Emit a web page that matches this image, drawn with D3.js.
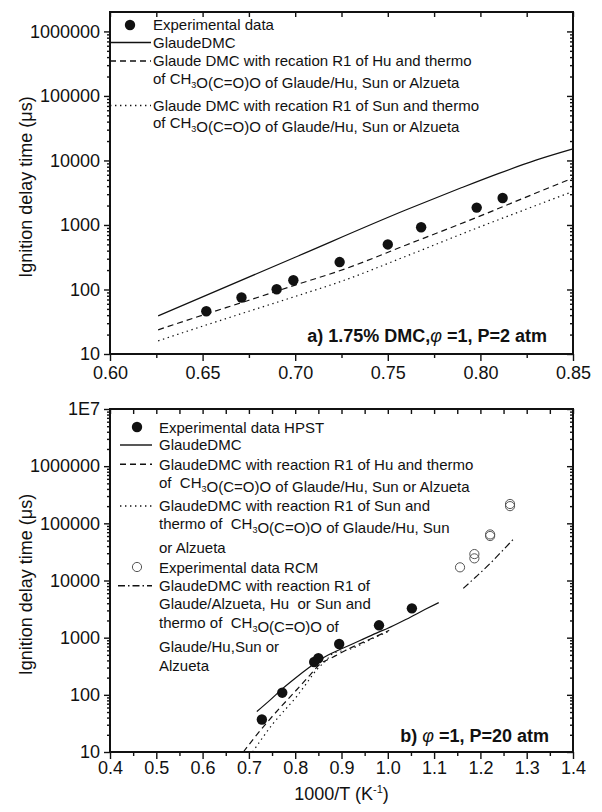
<!DOCTYPE html>
<html>
<head>
<meta charset="utf-8">
<script src="https://cdn.jsdelivr.net/npm/d3@7/dist/d3.min.js"></script>
<style>
  body { margin: 0; background: #fff; }
  svg { display: block; }
  text { font-family: "Liberation Sans", Arial, Helvetica, sans-serif; fill: #111; }
</style>
</head>
<body>
<svg id="chart" width="602" height="812"></svg>
<script>
// ---------- Panel a) 1.75% DMC, phi = 1, P = 2 atm ----------
const expA_x = [0.652, 0.671, 0.690, 0.699, 0.724, 0.750, 0.768, 0.798, 0.812];
const expA_y = [46, 75, 101, 139, 266, 499, 921, 1858, 2620];

const glaudeA_x = [0.626, 0.700, 0.760, 0.790, 0.810, 0.830, 0.850];
const glaudeA_y = [39, 316, 1718, 3800, 6310, 10100, 15100];

const huA_x = [0.626, 0.650, 0.675, 0.700, 0.727, 0.760, 0.796, 0.825, 0.850];
const huA_y = [23.7, 40, 68, 117, 209, 490, 1242, 2730, 5340];

const sunA_x = [0.626, 0.650, 0.675, 0.700, 0.724, 0.760, 0.796, 0.825, 0.850];
const sunA_y = [16, 27, 46, 78, 131, 329, 849, 1770, 3310];

const xTicksA = ["0.60", "0.65", "0.70", "0.75", "0.80", "0.85"];
const yTicksA = ["10", "100", "1000", "10000", "100000", "1000000"];

// ---------- Panel b) phi = 1, P = 20 atm ----------
const hpstB_x = [0.728, 0.772, 0.841, 0.850, 0.895, 0.981, 1.052];
const hpstB_y = [37, 109, 375, 436, 775, 1644, 3260];

const rcmB_x = [1.156, 1.187, 1.187, 1.221, 1.221, 1.264, 1.264];
const rcmB_y = [17000, 24400, 29000, 60000, 64000, 200000, 218000];

const glaudeB_x = [0.717, 0.745, 0.772, 0.800, 0.830, 0.855, 0.880, 0.900, 0.940, 0.980, 1.000, 1.040, 1.080, 1.110];
const glaudeB_y = [51, 80, 127, 195, 300, 420, 540, 640, 890, 1250, 1460, 2100, 3100, 4100];

const huB_x = [0.688, 0.710, 0.738, 0.766, 0.796, 0.832, 0.854, 0.880, 0.918, 0.969, 1.003];
const huB_y = [10, 17, 32, 58, 106, 222, 346, 450, 652, 1000, 1340];

const sunB_x = [0.708, 0.730, 0.753, 0.780, 0.803, 0.825, 0.846, 0.865, 0.882, 0.918, 0.969, 1.003];
const sunB_y = [10, 18, 32, 57, 93, 161, 272, 387, 532, 626, 980, 1300];

const allR1B_x = [1.163, 1.190, 1.220, 1.245, 1.271];
const allR1B_y = [7290, 11500, 19500, 31500, 52500];

const xTicksB = ["0.4", "0.5", "0.6", "0.7", "0.8", "0.9", "1.0", "1.1", "1.2", "1.3", "1.4"];
const yTicksB = ["10", "100", "1000", "10000", "100000", "1000000", "1E7"];

// ---------- drawing ----------
const svg = d3.select("#chart");

const DASH = "6,4", DOT = "1.4,3.6", DASHDOT = "7,3,1.5,3";

function logMinors(domain) {
  const out = [];
  for (let d = Math.pow(10, Math.floor(Math.log10(domain[0]))); d < domain[1]; d *= 10) {
    for (let m = 2; m <= 9; m++) {
      const v = m * d;
      if (v > domain[0] && v < domain[1]) out.push(v);
    }
  }
  return out;
}

function drawPanel(p) {
  const g = svg.append("g");
  const x = d3.scaleLinear().domain(p.xDomain).range([p.left, p.right]);
  const y = d3.scaleLog().domain(p.yDomain).range([p.bottom, p.top]);
  const xMajor = p.xLabels.map(Number);
  const yMajor = p.yLabels.map(Number);
  const xMinor = d3.range(p.xDomain[0] + p.xMinorStep, p.xDomain[1], p.xMinorStep * 2)
                   .map(v => +v.toFixed(4));
  const yMinor = logMinors(p.yDomain);

  const styleAxis = sel => {
    sel.select(".domain").remove();
    sel.selectAll(".tick line").attr("stroke", "#111").attr("stroke-width", 1.4);
    sel.selectAll(".tick text").style("font-size", "18px").style("fill", "#111")
       .attr("font-family", null);
  };

  // left axis (outward ticks)
  g.append("g").attr("transform", `translate(${p.left},0)`)
    .call(d3.axisLeft(y).tickValues(yMajor).tickFormat((d, i) => p.yLabels[i]).tickSize(6).tickPadding(4))
    .call(styleAxis);
  g.append("g").attr("transform", `translate(${p.left},0)`)
    .call(d3.axisLeft(y).tickValues(yMinor).tickFormat("").tickSize(3))
    .call(styleAxis);
  // right axis (inward ticks)
  g.append("g").attr("transform", `translate(${p.right},0)`)
    .call(d3.axisLeft(y).tickValues(yMajor).tickFormat("").tickSize(6))
    .call(styleAxis).selectAll(".tick line").attr("x2", -6);
  g.append("g").attr("transform", `translate(${p.right},0)`)
    .call(d3.axisLeft(y).tickValues(yMinor).tickFormat("").tickSize(3))
    .call(styleAxis).selectAll(".tick line").attr("x2", -3);
  // bottom axis (outward ticks)
  g.append("g").attr("transform", `translate(0,${p.bottom})`)
    .call(d3.axisBottom(x).tickValues(xMajor).tickFormat((d, i) => p.xLabels[i]).tickSize(7).tickPadding(p.xPad))
    .call(styleAxis);
  g.append("g").attr("transform", `translate(0,${p.bottom})`)
    .call(d3.axisBottom(x).tickValues(xMinor).tickFormat("").tickSize(4))
    .call(styleAxis);
  // top axis (inward ticks)
  g.append("g").attr("transform", `translate(0,${p.top})`)
    .call(d3.axisBottom(x).tickValues(xMajor.concat(xMinor)).tickFormat("").tickSize(5))
    .call(styleAxis);

  // frame
  g.append("rect")
    .attr("x", p.left).attr("y", p.top)
    .attr("width", p.right - p.left).attr("height", p.bottom - p.top)
    .attr("fill", "none").attr("stroke", "#111").attr("stroke-width", 2);

  // y title
  g.append("text")
    .attr("transform", `translate(32,${(p.top + p.bottom) / 2 + 4}) rotate(-90)`)
    .attr("text-anchor", "middle").style("font-size", "18px")
    .text("Ignition delay time (\u03bcs)");

  // curves
  const line = d3.line().x(d => x(d[0])).y(d => y(d[1])).curve(d3.curveMonotoneX);
  p.curves.forEach(c => {
    g.append("path")
      .datum(d3.zip(c.x, c.y))
      .attr("d", line)
      .attr("fill", "none")
      .attr("stroke", "#111")
      .attr("stroke-width", 1.2)
      .attr("stroke-dasharray", c.dash || null);
  });

  // markers
  p.points.forEach(s => {
    g.append("g").selectAll("circle")
      .data(d3.zip(s.x, s.y))
      .join("circle")
      .attr("cx", d => x(d[0])).attr("cy", d => y(d[1]))
      .attr("r", s.open ? 4.6 : 5.2)
      .attr("fill", s.open ? "none" : "#111")
      .attr("stroke", s.open ? "#555" : "none")
      .attr("stroke-width", 1);
  });

  // legend
  const lg = g.append("g");
  p.legend.forEach(item => {
    const sy = item.symY;
    if (item.kind === "dot") {
      lg.append("circle").attr("cx", p.legendSym).attr("cy", sy).attr("r", 5.2).attr("fill", "#111");
    } else if (item.kind === "open") {
      lg.append("circle").attr("cx", p.legendSym).attr("cy", sy).attr("r", 4.6)
        .attr("fill", "none").attr("stroke", "#555").attr("stroke-width", 1);
    } else {
      lg.append("line").attr("x1", item.x1 || p.legendLine[0]).attr("x2", p.legendLine[1])
        .attr("y1", sy).attr("y2", sy).attr("stroke", "#111").attr("stroke-width", 1.4)
        .attr("stroke-dasharray", item.dash || null);
    }
    item.lines.forEach((ln, i) => {
      const t = lg.append("text")
        .attr("x", p.legendText).attr("y", item.base[i])
        .style("font-size", "15px").style("white-space", "pre");
      // "_3" marks a subscript 3
      ln.split(/(_3)/).forEach(part => {
        if (part === "_3") {
          t.append("tspan").attr("dy", 4).style("font-size", "9px").text("3");
          t.append("tspan").attr("dy", -4).text("");
        } else if (part) {
          t.append("tspan").text(part);
        }
      });
    });
  });

  // panel caption
  const cap = g.append("text").attr("x", p.capX).attr("y", p.capY)
    .attr("text-anchor", "end").style("font-size", "18px").style("font-weight", "bold");
  p.caption.forEach(part => {
    const ts = cap.append("tspan").text(part.t);
    if (part.it) ts.style("font-style", "italic").style("font-weight", "normal");
  });
  return { x, y };
}

drawPanel({
  left: 110, right: 573, top: 12, bottom: 354,
  xDomain: [0.60, 0.85], yDomain: [10, 2e6], xMinorStep: 0.025,
  xLabels: xTicksA, yLabels: yTicksA, xPad: 5,
  curves: [
    { x: glaudeA_x, y: glaudeA_y },
    { x: huA_x, y: huA_y, dash: DASH },
    { x: sunA_x, y: sunA_y, dash: DOT }
  ],
  points: [{ x: expA_x, y: expA_y }],
  legendSym: 130, legendLine: [110, 151], legendText: 153,
  legend: [
    { kind: "dot", symY: 25, lines: ["Experimental data"], base: [30] },
    { kind: "line", symY: 42.5, lines: ["GlaudeDMC"], base: [47.5] },
    { kind: "line", dash: DASH, symY: 61, lines: ["Glaude DMC with recation R1 of Hu and thermo", "of CH_3O(C=O)O of Glaude/Hu, Sun or Alzueta"], base: [66, 84] },
    { kind: "line", dash: DOT, symY: 105.5, lines: ["Glaude DMC with recation R1 of Sun and thermo", "of CH_3O(C=O)O of Glaude/Hu, Sun or Alzueta"], base: [110.5, 128] }
  ],
  caption: [{ t: "a) 1.75% DMC," }, { t: "\u03c6", it: true }, { t: " =1, P=2 atm" }],
  capX: 547, capY: 342
});

drawPanel({
  left: 110, right: 573, top: 409, bottom: 752,
  xDomain: [0.4, 1.4], yDomain: [10, 1e7], xMinorStep: 0.05,
  xLabels: xTicksB, yLabels: yTicksB, xPad: 2,
  curves: [
    { x: glaudeB_x, y: glaudeB_y },
    { x: huB_x, y: huB_y, dash: DASH },
    { x: sunB_x, y: sunB_y, dash: DOT },
    { x: allR1B_x, y: allR1B_y, dash: DASHDOT }
  ],
  points: [{ x: hpstB_x, y: hpstB_y }, { x: rcmB_x, y: rcmB_y, open: true }],
  legendSym: 137, legendLine: [120, 152], legendText: 159,
  legend: [
    { kind: "dot", symY: 427, lines: ["Experimental data HPST"], base: [432.5] },
    { kind: "line", symY: 445, lines: ["GlaudeDMC"], base: [450] },
    { kind: "line", dash: DASH, symY: 464.3, lines: ["GlaudeDMC with reaction R1 of Hu and thermo", "of  CH_3O(C=O)O of Glaude/Hu, Sun or Alzueta"], base: [469.5, 487.5] },
    { kind: "line", dash: DOT, symY: 506, lines: ["GlaudeDMC with reaction R1 of Sun and", "thermo of  CH_3O(C=O)O of Glaude/Hu, Sun", "or Alzueta"], base: [510.7, 529, 553] },
    { kind: "open", symY: 567, lines: ["Experimental data RCM"], base: [572.7] },
    { kind: "line", dash: DASHDOT, x1: 118, symY: 585.7, lines: ["GlaudeDMC with reaction R1 of", "Glaude/Alzueta, Hu  or Sun and", "thermo of  CH_3O(C=O)O of", "Glaude/Hu,Sun or", "Alzueta"], base: [590.7, 609.3, 628, 652, 671] }
  ],
  caption: [{ t: "b) " }, { t: "\u03c6", it: true }, { t: " =1, P=20 atm" }],
  capX: 549, capY: 742
});

// shared x title
const xt = svg.append("text").attr("x", 341.5).attr("y", 800)
  .attr("text-anchor", "middle").style("font-size", "18px");
xt.append("tspan").text("1000/T (K");
xt.append("tspan").attr("dy", -7).style("font-size", "11px").text("-1");
xt.append("tspan").attr("dy", 7).text(")");
</script>
</body>
</html>
